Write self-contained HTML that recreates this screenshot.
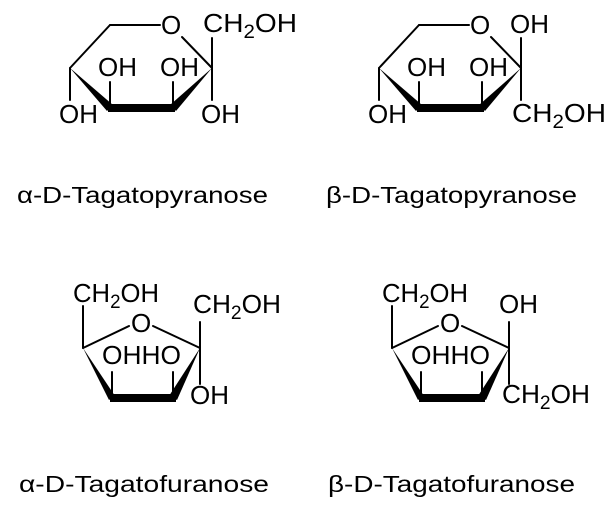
<!DOCTYPE html>
<html><head><meta charset="utf-8"><style>
html,body{margin:0;padding:0;background:#fff;}
svg{display:block;}
text{font-family:"Liberation Sans",Arial,sans-serif;fill:#000;}
</style></head><body>
<svg width="616" height="512" viewBox="0 0 616 512" xmlns="http://www.w3.org/2000/svg">
<defs>
<g id="pyr">
  <g stroke="#000" stroke-width="2" fill="none" stroke-linecap="round">
    <line x1="160" y1="25" x2="110" y2="25"/>
    <line x1="110" y1="25" x2="70" y2="68"/>
    <line x1="182" y1="37" x2="212" y2="68"/>
    <line x1="70" y1="68" x2="70" y2="100"/>
    <line x1="110" y1="108" x2="110" y2="82"/>
    <line x1="173" y1="108" x2="173" y2="82"/>
    <line x1="212" y1="68" x2="212" y2="38"/>
    <line x1="212" y1="68" x2="212" y2="100"/>
  </g>
  <polygon points="70,68 113,105 107,111" fill="#000"/>
  <polygon points="108,104 175,104 175,112 108,112" fill="#000"/>
  <polygon points="176,111 170,105 212,68" fill="#000"/>
  <text x="161" y="34" font-size="26">O</text>
  <text x="98" y="76" font-size="26">OH</text>
  <text x="160" y="76" font-size="26">OH</text>
  <text x="59" y="123" font-size="26">OH</text>
</g>
<g id="fur">
  <g stroke="#000" stroke-width="2" fill="none" stroke-linecap="round">
    <line x1="83" y1="348" x2="129" y2="326"/>
    <line x1="153" y1="326" x2="200" y2="348"/>
    <line x1="83" y1="348" x2="83" y2="306"/>
    <line x1="112" y1="398" x2="112" y2="372"/>
    <line x1="173" y1="398" x2="173" y2="372"/>
    <line x1="200" y1="348" x2="200" y2="322"/>
    <line x1="200" y1="348" x2="200" y2="384"/>
  </g>
  <polygon points="83,348 115,396 109,400" fill="#000"/>
  <polygon points="110,394 176,394 176,402 110,402" fill="#000"/>
  <polygon points="177,400 169,396 200,348" fill="#000"/>
  <text x="131" y="332" font-size="26">O</text>
  <text x="102" y="364" font-size="26" textLength="79" lengthAdjust="spacingAndGlyphs">OHHO</text>
  <text x="73" y="302" font-size="26" textLength="86" lengthAdjust="spacingAndGlyphs">CH<tspan font-size="19" dy="6">2</tspan><tspan dy="-6">OH</tspan></text>
</g>
</defs>

<use href="#pyr"/>
<text x="203" y="32" font-size="26" textLength="94" lengthAdjust="spacingAndGlyphs">CH<tspan font-size="19" dy="6">2</tspan><tspan dy="-6">OH</tspan></text>
<text x="201" y="123" font-size="26">OH</text>
<text x="17" y="203" font-size="23" textLength="251" lengthAdjust="spacingAndGlyphs">α-D-Tagatopyranose</text>

<g transform="translate(309,0)"><use href="#pyr"/>
<text x="201" y="33" font-size="26">OH</text>
<text x="203" y="122" font-size="26" textLength="94" lengthAdjust="spacingAndGlyphs">CH<tspan font-size="19" dy="6">2</tspan><tspan dy="-6">OH</tspan></text>
</g>
<text x="326" y="203" font-size="23" textLength="251" lengthAdjust="spacingAndGlyphs">β-D-Tagatopyranose</text>

<use href="#fur"/>
<text x="193" y="313" font-size="26" textLength="88" lengthAdjust="spacingAndGlyphs">CH<tspan font-size="19" dy="6">2</tspan><tspan dy="-6">OH</tspan></text>
<text x="190" y="404" font-size="26">OH</text>
<text x="19" y="492" font-size="23" textLength="250" lengthAdjust="spacingAndGlyphs">α-D-Tagatofuranose</text>

<g transform="translate(309,0)"><use href="#fur"/>
<text x="190" y="313" font-size="26">OH</text>
<text x="193" y="403" font-size="26" textLength="88" lengthAdjust="spacingAndGlyphs">CH<tspan font-size="19" dy="6">2</tspan><tspan dy="-6">OH</tspan></text>
</g>
<text x="328" y="492" font-size="23" textLength="247" lengthAdjust="spacingAndGlyphs">β-D-Tagatofuranose</text>
</svg>
</body></html>
